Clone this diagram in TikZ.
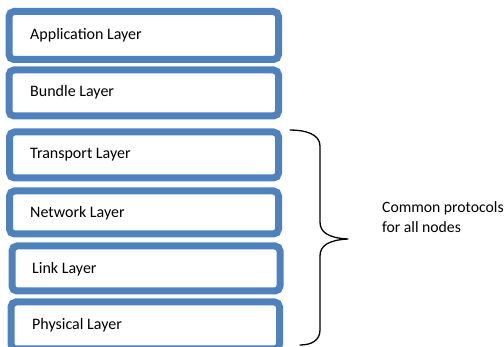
\documentclass[tikz,border=0pt]{standalone}
\usepackage{fontspec}
\setmainfont{Carlito}
\definecolor{layerblue}{HTML}{4F81BD}
\tikzset{
  layerbox/.style={draw=layerblue, line width=7pt, rounded corners=5pt, fill=white},
  layertext/.style={anchor=base west, inner sep=0pt, font=\fontsize{16}{19}\selectfont},
  bracepath/.style={draw=black, line width=1.3pt, line join=round, line cap=round}
}
\begin{document}
\begin{tikzpicture}[x=1pt,y=-1pt]
\useasboundingbox (0,0) rectangle (504,347);
% boxes
\path[layerbox] (9,11.5) rectangle (278.5,59.5) node[midway] (app) {};
\path[layerbox] (9,70) rectangle (278.5,116) node[midway] (bundle) {};
\path[layerbox] (9.5,132) rectangle (278.5,178) node[midway] (transport) {};
\path[layerbox] (9.5,191) rectangle (278.5,234) node[midway] (network) {};
\path[layerbox] (12,246) rectangle (280,291) node[midway] (link) {};
\path[layerbox] (11,302) rectangle (279.5,349) node[midway] (physical) {};
% labels
\node[layertext] (tapp) at (30,39.5) {Application Layer};
\node[layertext] (tbundle) at (30,96.5) {Bundle Layer};
\node[layertext] (ttransport) at (30,158.5) {Transport Layer};
\node[layertext] (tnetwork) at (30,217.5) {Network Layer};
\node[layertext] (tlink) at (32,273.5) {Link Layer};
\node[layertext] (tphysical) at (32,329.5) {Physical Layer};
% brace
\coordinate (btop) at (290,130);
\coordinate (btip) at (348,239);
\coordinate (bbot) at (300,345);
\draw[bracepath] (btop) .. controls (305,130) and (320,134) .. (320,146)
  -- (320,222) .. controls (320,232) and (328,238) .. (btip)
  .. controls (328,240) and (320,246) .. (320,256)
  -- (320,330) .. controls (320,340) and (312,345) .. (bbot);
% note
\node[anchor=base west, inner sep=0pt, align=left, font=\fontsize{15.7}{20.5}\selectfont] (note) at (382,233) {Common protocols\\for all nodes};
\end{tikzpicture}
\end{document}
